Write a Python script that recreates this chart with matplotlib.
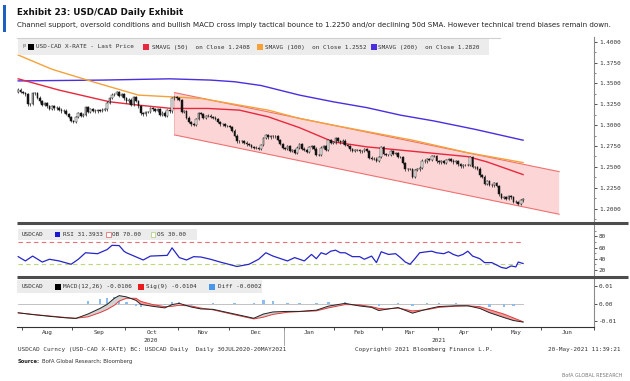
import numpy as np
import pandas as pd
import matplotlib
matplotlib.use("Agg")
import matplotlib.pyplot as plt
from matplotlib.patches import Rectangle, Polygon
from matplotlib.lines import Line2D
from matplotlib.transforms import blended_transform_factory

plt.rcParams['axes.unicode_minus'] = False

W, H = 630, 381
MONO = 'DejaVu Sans Mono'
NARROW = ['Liberation Sans Narrow', 'DejaVu Sans']

# ---- data ----
start_date = "2020-07-30"
axis_end = "2021-06-30"
first_open = 1.3400
closes = [
    1.3425, 1.3398,
    # Aug
    1.3385, 1.3370, 1.3250, 1.3255, 1.3385, 1.3380, 1.3330, 1.3285, 1.3245, 1.3260,
    1.3225, 1.3195, 1.3230, 1.3200, 1.3210, 1.3185, 1.3165, 1.3175, 1.3135, 1.3095, 1.3050,
    # Sep
    1.3040, 1.3095, 1.3140, 1.3115, 1.3125, 1.3215, 1.3160, 1.3195, 1.3175, 1.3165, 1.3180,
    1.3175, 1.3185, 1.3190, 1.3270, 1.3325, 1.3365, 1.3375, 1.3395, 1.3355, 1.3370, 1.3320,
    # Oct
    1.3285, 1.3305, 1.3240, 1.3335, 1.3290, 1.3225, 1.3140, 1.3130, 1.3155, 1.3160, 1.3200,
    1.3190, 1.3170, 1.3195, 1.3125, 1.3150, 1.3115, 1.3180, 1.3165, 1.3320, 1.3340, 1.3320,
    # Nov
    1.3300, 1.3160, 1.3165, 1.3090, 1.3035, 1.3010, 1.3005, 1.3075, 1.3140, 1.3135, 1.3085,
    1.3110, 1.3115, 1.3100, 1.3090, 1.3075, 1.3040, 1.3010, 1.3015, 1.2990, 1.2990,
    # Dec
    1.2975, 1.2935, 1.2875, 1.2805, 1.2810, 1.2805, 1.2790, 1.2770, 1.2765, 1.2740, 1.2730,
    1.2725, 1.2720, 1.2765, 1.2845, 1.2880, 1.2855, 1.2870, 1.2865, 1.2865, 1.2820, 1.2775, 1.2725,
    # Jan
    1.2720, 1.2745, 1.2690, 1.2700, 1.2665, 1.2730, 1.2770, 1.2720, 1.2700, 1.2680, 1.2735,
    1.2745, 1.2720, 1.2640, 1.2640, 1.2730, 1.2745, 1.2700, 1.2825, 1.2790, 1.2790,
    # Feb
    1.2845, 1.2810, 1.2795, 1.2815, 1.2760, 1.2750, 1.2710, 1.2690, 1.2705, 1.2700,
    1.2685, 1.2690, 1.2710, 1.2690, 1.2610, 1.2595, 1.2600, 1.2570, 1.2620, 1.2735,
    # Mar
    1.2655, 1.2645, 1.2640, 1.2690, 1.2660, 1.2665, 1.2620, 1.2620, 1.2545, 1.2470, 1.2475,
    1.2475, 1.2380, 1.2460, 1.2470, 1.2490, 1.2575, 1.2565, 1.2590, 1.2580, 1.2630, 1.2630, 1.2565,
    # Apr
    1.2555, 1.2570, 1.2550, 1.2580, 1.2595, 1.2575, 1.2555, 1.2565, 1.2530, 1.2505, 1.2520,
    1.2525, 1.2520, 1.2615, 1.2500, 1.2495, 1.2480, 1.2400, 1.2385, 1.2300, 1.2330, 1.2285,
    # May
    1.2280, 1.2310, 1.2270, 1.2170, 1.2130, 1.2140, 1.2120, 1.2150, 1.2135, 1.2085, 1.2080,
    1.2055, 1.2100, 1.2110,
]

# moving averages, sampled along the trading-day axis
sma50_day = [0, 17, 38, 50, 64, 79, 92, 104, 117, 131, 145, 163, 187, 195, 210]
sma50_val = [1.3555, 1.3420, 1.3280, 1.3240, 1.3200, 1.3200, 1.3180, 1.3100, 1.2970,
             1.2800, 1.2740, 1.2690, 1.2623, 1.2560, 1.2408]
sma100_day = [0, 14, 31, 50, 63, 76, 104, 117, 131, 164, 187, 210]
sma100_val = [1.3840, 1.3670, 1.3520, 1.3360, 1.3340, 1.3320, 1.3180, 1.3080, 1.3000,
              1.2820, 1.2670, 1.2552]
sma200_day = [0, 35, 63, 80, 90, 101, 117, 131, 145, 159, 173, 190, 210]
sma200_val = [1.3530, 1.3540, 1.3555, 1.3540, 1.3520, 1.3475, 1.3360, 1.3280, 1.3210,
              1.3120, 1.3050, 1.2950, 1.2820]

# trend channel
channel_day = [65, 225]
channel_upper = [1.3390, 1.2443]
channel_lower = [1.2883, 1.1933]

# RSI(14)
rsi_day = [0, 3, 6, 10, 13, 17, 22, 25, 28, 33, 37, 39, 42, 44, 45, 52, 55, 62, 64, 67, 70,
           73, 76, 80, 84, 91, 96, 100, 103, 106, 112, 115, 119, 122, 124, 126, 128, 130, 132,
           134, 136, 139, 142, 144, 147, 149, 151, 154, 157, 159, 161, 163, 165, 167, 170, 172,
           174, 177, 179, 181, 183, 185, 187, 189, 192, 194, 197, 201, 203, 205, 207, 208, 210]
rsi_val = [43.7, 36.0, 44.7, 34.0, 39.0, 36.0, 30.0, 39.0, 50.7, 49.0, 56.5, 64.0, 63.6, 53.5,
           50.7, 37.7, 44.7, 46.0, 59.5, 42.0, 37.7, 43.7, 43.0, 39.0, 34.0, 26.0, 30.0, 39.0,
           50.7, 44.7, 36.0, 42.0, 36.0, 47.7, 40.0, 50.7, 47.7, 53.5, 55.3, 50.7, 50.7, 43.7,
           43.7, 39.0, 44.7, 33.0, 52.5, 47.7, 49.0, 42.0, 34.0, 30.0, 40.0, 50.7, 52.5, 53.5,
           50.7, 49.0, 52.5, 47.7, 44.7, 47.7, 53.5, 44.7, 40.0, 33.0, 33.0, 24.3, 22.5, 27.0,
           25.3, 34.0, 31.4]
rsi_ob, rsi_os = 70, 30

# MACD(12,26) and signal(9)
macd_day = [0, 6, 13, 20, 24, 29, 34, 37, 40, 42, 45, 49, 51, 56, 61, 64, 67, 72, 76, 81, 90,
            98, 102, 106, 112, 117, 124, 129, 136, 142, 147, 150, 153, 158, 164, 170, 175, 182,
            187, 192, 196, 202, 206, 210]
macd_val = [-0.0053, -0.0063, -0.0073, -0.0082, -0.0085, -0.0060, -0.0028, -0.0005, 0.0030,
            0.0045, 0.0038, 0.0018, -0.0005, -0.0016, -0.0025, -0.0006, 0.0001, -0.0020,
            -0.0031, -0.0033, -0.0060, -0.0084, -0.0060, -0.0048, -0.0045, -0.0045, -0.0038,
            -0.0015, 0.0001, -0.0014, -0.0022, -0.0040, -0.0033, -0.0023, -0.0055, -0.0032,
            -0.0017, -0.0013, -0.0013, -0.0028, -0.0052, -0.0080, -0.0097, -0.0106]
sig_val = [-0.0053, -0.0062, -0.0071, -0.0080, -0.0084, -0.0076, -0.0052, -0.0034, -0.0010,
           0.0014, 0.0030, 0.0030, 0.0012, -0.0006, -0.0018, -0.0016, -0.0010, -0.0014,
           -0.0026, -0.0036, -0.0064, -0.0088, -0.0078, -0.0062, -0.0050, -0.0046, -0.0042,
           -0.0025, -0.0006, -0.0008, -0.0018, -0.0028, -0.0031, -0.0026, -0.0042, -0.0035,
           -0.0022, -0.0015, -0.0013, -0.0018, -0.0035, -0.0060, -0.0082, -0.0104]

month_names = ['Aug', 'Sep', 'Oct', 'Nov', 'Dec', 'Jan', 'Feb', 'Mar', 'Apr', 'May', 'Jun']


def fx(x):
    return x / W


def fy(y):
    return 1 - y / H


fig = plt.figure(figsize=(W / 100, H / 100), dpi=100)
fig.patch.set_facecolor('white')

axis_days = pd.bdate_range(start_date, axis_end)
n_axis = len(axis_days)
n = len(closes)

L, R = 17, 594
ax1 = fig.add_axes([fx(L), fy(222), (R - L) / W, (222 - 37) / H])
ax2 = fig.add_axes([fx(L), fy(275), (R - L) / W, (275 - 225) / H])
ax3 = fig.add_axes([fx(L), fy(327), (R - L) / W, (327 - 279) / H])

for ax in (ax1, ax2, ax3):
    ax.set_xlim(-0.5, n_axis - 0.5)
    for s in ('top', 'left', 'bottom'):
        ax.spines[s].set_visible(False)
    ax.spines['right'].set_color('#8a8a8a')
    ax.spines['right'].set_linewidth(0.8)
    ax.yaxis.tick_right()
    ax.tick_params(axis='y', which='major', labelsize=4.3, length=2.5, width=0.6,
                   pad=1, colors='#333333')
    ax.tick_params(axis='y', which='minor', length=1.5, width=0.5, colors='#555555')
    ax.tick_params(axis='x', which='both', bottom=False, labelbottom=False)

# ---- price panel ----
opens = [first_open] + closes[:-1]
wick = 0.0015
for i, (o, c) in enumerate(zip(opens, closes)):
    lo, hi = min(o, c), max(o, c)
    ax1.vlines(i, lo - wick, hi + wick, color='#1a1a1a', linewidth=0.5, zorder=4)
    up = c >= o
    ax1.bar(i, max(hi - lo, 0.0004), bottom=lo, width=0.7,
            color='white' if up else '#111111', edgecolor='#1a1a1a', linewidth=0.35, zorder=5)

poly = Polygon([(channel_day[0], channel_upper[0]), (channel_day[1], channel_upper[1]),
                (channel_day[1], channel_lower[1]), (channel_day[0], channel_lower[0])],
               closed=True, facecolor='#fcd6d6', edgecolor='none', zorder=1)
ax1.add_patch(poly)
ax1.plot(channel_day, channel_upper, color='#f07070', linewidth=0.8, zorder=2)
ax1.plot(channel_day, channel_lower, color='#f07070', linewidth=0.8, zorder=2)
ax1.plot([channel_day[0]] * 2, [channel_lower[0], channel_upper[0]], color='#f4a0a0',
         linewidth=0.5, zorder=2)

ax1.plot(sma200_day, sma200_val, color='#4a2ee0', linewidth=1.0, zorder=3)
ax1.plot(sma100_day, sma100_val, color='#f5a13a', linewidth=1.0, zorder=3)
ax1.plot(sma50_day, sma50_val, color='#e8283c', linewidth=1.0, zorder=3)

ax1.set_ylim(1.184, 1.4056)
ax1.set_yticks(np.arange(1.2, 1.40001, 0.025))
ax1.set_yticks(np.arange(1.1875, 1.4, 0.025), minor=True)
ax1.yaxis.set_major_formatter(matplotlib.ticker.FormatStrFormatter('%.4f'))

# ---- RSI panel ----
ax2.plot(rsi_day, rsi_val, color='#2626c8', linewidth=0.9, zorder=3)
ax2.plot([0, n - 1], [rsi_ob, rsi_ob], color='#ea6f76', linewidth=0.8, dashes=(4, 3))
ax2.plot([0, n - 1], [rsi_os, rsi_os], color='#bcd97a', linewidth=0.8, dashes=(4, 3))
ax2.set_ylim(10.7, 100.6)
ax2.set_yticks([20, 40, 60, 80])
ax2.set_yticks([30, 50, 70, 90], minor=True)

# ---- MACD panel ----
macd = np.array(macd_val)
sig = np.array(sig_val)
diff = macd - sig
ax3.plot([0, n - 1], [0, 0], color='#b8b8b8', linewidth=0.6, zorder=1)
ax3.bar(macd_day, diff, width=1.0, color='#8dbcf0', linewidth=0, zorder=2)
ax3.fill_between(macd_day, macd, sig, where=macd <= sig, interpolate=True,
                 color='#f29a9a', linewidth=0, zorder=3)
ax3.fill_between(macd_day, macd, sig, where=macd > sig, interpolate=True,
                 color='#d2d2d2', linewidth=0, zorder=3)
ax3.plot(macd_day, sig, color='#e23a3a', linewidth=0.7, zorder=4)
ax3.plot(macd_day, macd, color='#222222', linewidth=0.7, zorder=5)
ax3.set_ylim(-0.0134, 0.014)
ax3.set_yticks([-0.01, 0.0, 0.01])
ax3.yaxis.set_major_formatter(matplotlib.ticker.FormatStrFormatter('%.2f'))

# month ticks on bottom axis
ax3.spines['bottom'].set_visible(True)
ax3.spines['bottom'].set_color('#333333')
ax3.spines['bottom'].set_linewidth(0.8)
months = axis_days.to_period('M')
bounds = [i for i in range(1, n_axis) if months[i] != months[i - 1]]
edges = bounds + [n_axis]
mids = [(edges[k] + edges[k + 1] - 1) / 2 for k in range(len(edges) - 1)]
ax3.set_xticks([b - 0.5 for b in bounds] + [n_axis - 0.5])
ax3.set_xticks(mids, minor=True)
ax3.set_xticklabels(month_names, minor=True)
ax3.tick_params(axis='x', which='major', bottom=True, length=2.5, width=0.6,
                color='#333333', labelbottom=False)
ax3.tick_params(axis='x', which='minor', bottom=True, length=0, labelbottom=True,
                labelsize=4.3, pad=2.5, labelcolor='#333333')

for ax in (ax1, ax2, ax3):
    for lab in ax.get_yticklabels() + ax.get_xticklabels(minor=True):
        lab.set_family(MONO)

trans = blended_transform_factory(ax3.transData, ax3.transAxes)
year_b = [b for b in bounds if axis_days[b].year == 2021][0]
ax3.plot([year_b - 0.5] * 2, [0, -0.37], transform=trans, clip_on=False,
         color='#9a9a9a', linewidth=0.6)
ax3.text((0 + year_b - 1) / 2, -0.29, '2020', transform=trans, ha='center', va='center',
         fontsize=4.3, family=MONO, color='#333333')
ax3.text((year_b + n_axis - 1) / 2, -0.29, '2021', transform=trans, ha='center',
         va='center', fontsize=4.3, family=MONO, color='#333333')

# ---- frame decorations ----
fig.add_artist(Line2D([fx(17), fx(500)], [fy(37.5), fy(37.5)], color='#cfcfcf', linewidth=0.8))
for ysep in (223.5, 276.8):
    fig.add_artist(Line2D([fx(17), fx(628)], [fy(ysep), fy(ysep)], color='#4d4d4d',
                          linewidth=2.2, solid_capstyle='butt'))


def box(x0, y0, x1, y1, fc='#ececec', ec='none', lw=0.0):
    fig.add_artist(Rectangle((fx(x0), fy(y1)), (x1 - x0) / W, (y1 - y0) / H,
                             transform=fig.transFigure, facecolor=fc, edgecolor=ec,
                             linewidth=lw))


def label(x, y, s, **kw):
    kw.setdefault('fontsize', 4.35)
    kw.setdefault('family', MONO)
    kw.setdefault('color', '#333333')
    return fig.text(fx(x), fy(y), s, ha=kw.pop('ha', 'left'), va=kw.pop('va', 'center'), **kw)


# price legend
box(18, 39, 489, 55)
label(22, 47, '\u2c63', fontsize=4.0, color='#777777', family='DejaVu Sans')
box(28, 44, 33.5, 49.5, fc='black')
label(35.5, 47, 'USD-CAD X-RATE - Last Price')
box(143, 44, 148.5, 49.5, fc='#e8283c')
label(151.5, 47, 'SMAVG (50)  on Close 1.2408')
box(257, 44, 262.5, 49.5, fc='#f5a13a')
label(265, 47, 'SMAVG (100)  on Close 1.2552')
box(371, 44, 376.5, 49.5, fc='#4a2ee0')
label(378.5, 47, 'SMAVG (200)  on Close 1.2820')

# RSI legend
box(18, 228.5, 197, 240)
label(22, 234.5, 'USDCAD')
box(55, 232, 60, 237, fc='#1a1ad0')
label(63, 234.5, 'RSI 31.3933')
box(106, 232, 110.5, 237, fc='white', ec='#e05a60', lw=0.5)
label(112.5, 234.5, 'OB 70.00')
box(150.5, 232, 155, 237, fc='white', ec='#a8cf70', lw=0.5)
label(157, 234.5, 'OS 30.00')

# MACD legend
box(17, 280, 262, 293)
label(22, 286.5, 'USDCAD')
box(55, 284, 60.5, 289.5, fc='black')
label(63, 286.5, 'MACD(12,26) -0.0106')
box(138, 284, 143.5, 289.5, fc='#e81c1c')
label(146.5, 286.5, 'Sig(9) -0.0104')
box(209, 284, 214.5, 289.5, fc='#4a96ea')
label(217.5, 286.5, 'Diff -0.0002')

# footer
label(18, 349.5, 'USDCAD Curncy (USD-CAD X-RATE) BC: USDCAD Daily  Daily 30JUL2020-20MAY2021')
label(355, 349.5, 'Copyright\u00a9 2021 Bloomberg Finance L.P.')
label(621, 349.5, '20-May-2021 11:39:21', ha='right')

# titles
renderer = fig.canvas.get_renderer()


def fit(t, target):
    w = t.get_window_extent(renderer=renderer).width
    t.set_fontsize(t.get_fontsize() * target / w)


fig.add_artist(Rectangle((fx(3), fy(32)), 3 / W, 27 / H, transform=fig.transFigure,
                         facecolor='#1f5fbf', edgecolor='none'))
t1 = label(17, 12.5, 'Exhibit 23: USD/CAD Daily Exhibit', family=NARROW, fontweight='bold',
           fontsize=6.3, color='#111111')
t2 = label(17, 25, 'Channel support, oversold conditions and bullish MACD cross imply tactical '
           'bounce to 1.2250 and/or declining 50d SMA. However technical trend biases remain down.',
           family=NARROW, fontsize=7, color='#222222')
fit(t2, 601)
t3 = label(18, 361.5, 'Source:', family=NARROW, fontweight='bold', fontsize=5, color='#222222')
fit(t3, 22)
t4 = label(42, 361.5, 'BofA Global Research; Bloomberg', family=NARROW, fontsize=5,
           color='#333333')
fit(t4, 91)
t5 = label(622, 375.5, 'BofA GLOBAL RESEARCH', ha='right', family=NARROW, fontsize=5,
           color='#777777')
fit(t5, 60)

fig.savefig('out.png', dpi=100)
